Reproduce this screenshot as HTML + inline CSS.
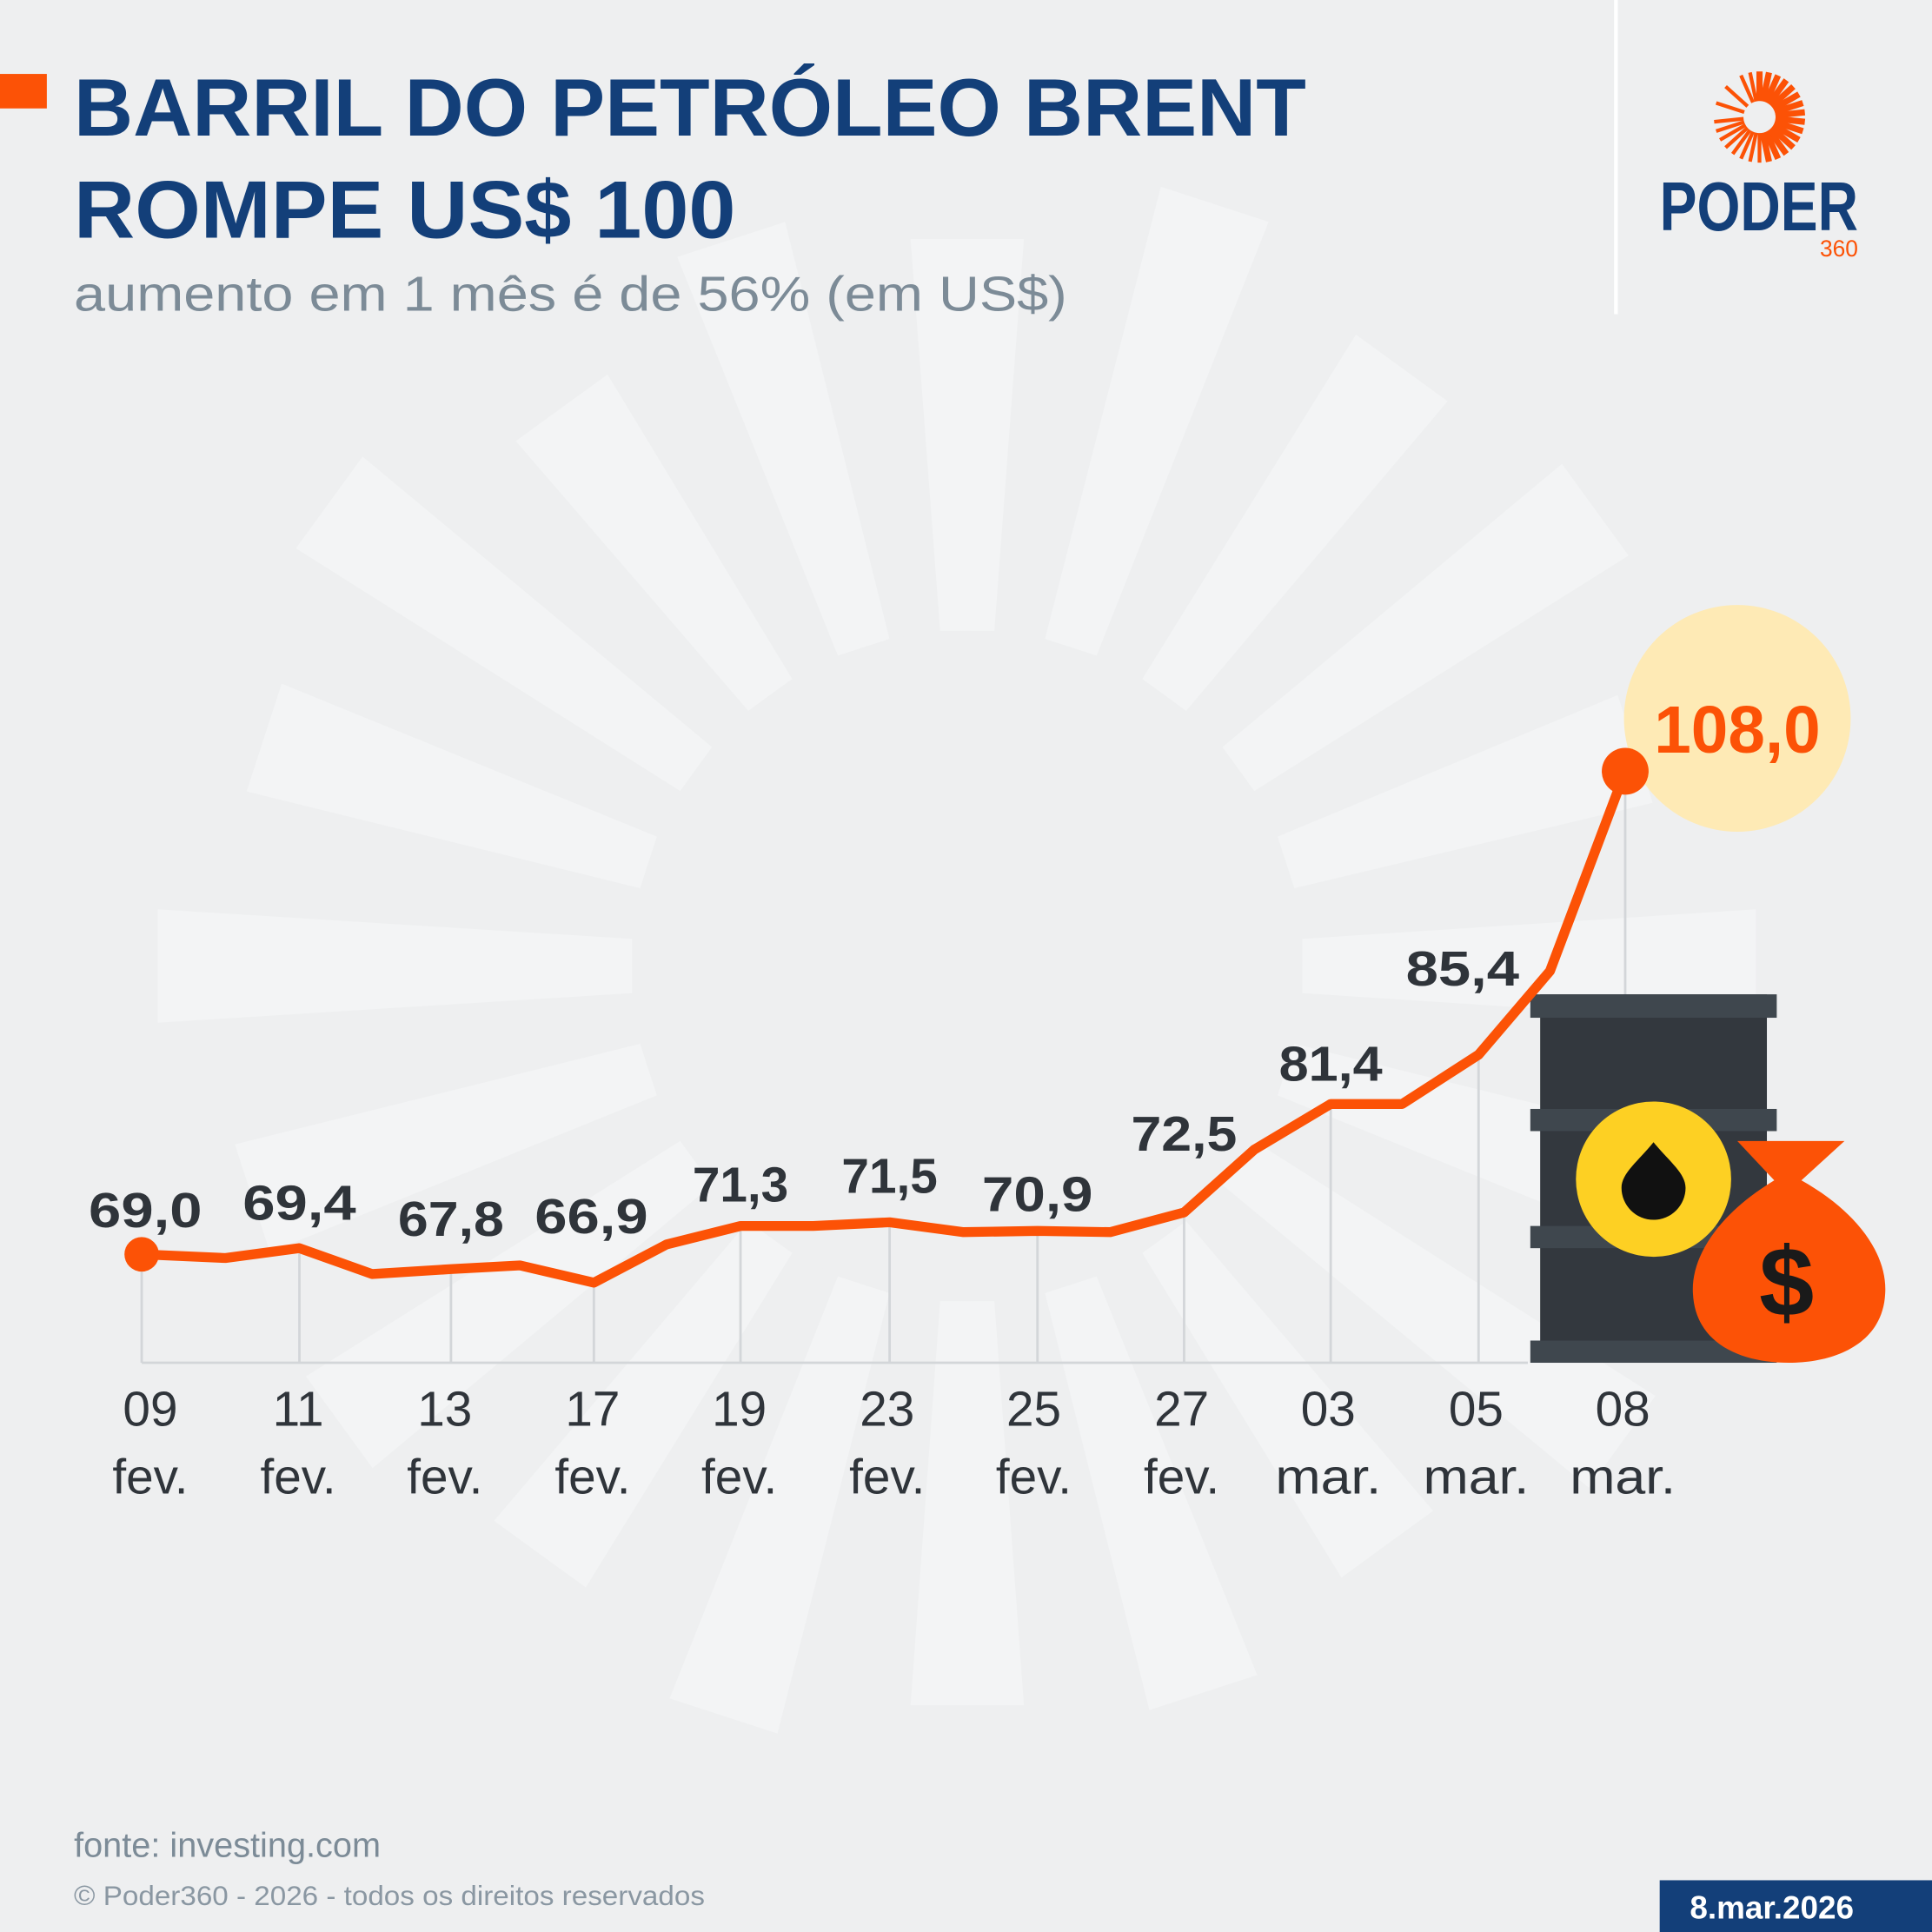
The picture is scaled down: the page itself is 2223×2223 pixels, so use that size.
<!DOCTYPE html>
<html><head><meta charset="utf-8"><style>
html,body{margin:0;padding:0;background:#eeeff0}
svg{display:block}
text{font-family:"Liberation Sans",sans-serif}
</style></head><body>
<svg id="s" width="2223" height="2223" viewBox="0 0 1568 1568" xmlns="http://www.w3.org/2000/svg">
<rect width="1568" height="1568" fill="#eeeff0"/>
<g id="rays" fill="#f3f4f5"></g>
<circle cx="785" cy="784" r="272" fill="#eeeff0"/>
<rect x="1310" y="0" width="3" height="255" fill="#ffffff"/>
<rect x="0" y="60" width="38" height="28" fill="#fc5206"/>
<text x="60" y="110" font-size="66" font-weight="bold" fill="#133f79" textLength="1000" lengthAdjust="spacingAndGlyphs">BARRIL DO PETRÓLEO BRENT</text>
<text x="60" y="193" font-size="66" font-weight="bold" fill="#133f79" textLength="537" lengthAdjust="spacingAndGlyphs">ROMPE US$ 100</text>
<text x="60" y="252" font-size="40" fill="#7c8b97" textLength="806" lengthAdjust="spacingAndGlyphs">aumento em 1 mês é de 56% (em US$)</text>
<g id="logo" fill="#fc5206"></g>
<text x="1347" y="187" font-size="56" font-weight="bold" fill="#133f79" textLength="161" lengthAdjust="spacingAndGlyphs">PODER</text>
<text x="1477" y="208" font-size="19" fill="#fc5206" textLength="31" lengthAdjust="spacingAndGlyphs">360</text>
<g stroke="#d3d6d9" stroke-width="2">
<line x1="115" y1="1106" x2="1240" y2="1106"/>
<line x1="115" y1="1018" x2="115" y2="1106"/><line x1="243" y1="1013" x2="243" y2="1106"/>
<line x1="366" y1="1030" x2="366" y2="1106"/><line x1="482" y1="1041" x2="482" y2="1106"/>
<line x1="601" y1="995" x2="601" y2="1106"/><line x1="722" y1="992" x2="722" y2="1106"/>
<line x1="842" y1="999" x2="842" y2="1106"/><line x1="961" y1="984" x2="961" y2="1106"/>
<line x1="1080" y1="896" x2="1080" y2="1106"/><line x1="1200" y1="856" x2="1200" y2="1106"/>
<line x1="1319" y1="626" x2="1319" y2="810"/>
</g>
<circle cx="1410" cy="583" r="92" fill="#feeab5"/>
<text x="1410" y="611" font-size="54" font-weight="bold" fill="#fc5206" text-anchor="middle">108,0</text>
<rect x="1250" y="807" width="184" height="299" fill="#33383e"/>
<g fill="#3f474e"><rect x="1242" y="807" width="200" height="19"/><rect x="1242" y="900" width="200" height="18"/><rect x="1242" y="995" width="200" height="18"/><rect x="1242" y="1088" width="200" height="18"/></g>
<circle cx="1342" cy="957" r="63" fill="#fdd023"/>
<path d="M1342 927 C1330 942 1316 952 1316 964 A26 26 0 0 0 1368 964 C1368 952 1354 942 1342 927Z" fill="#111"/>
<path d="M1410 926 L1497 926 L1462 958 C1510 985 1532 1020 1530 1050 C1528 1090 1490 1106 1452 1106 C1412 1106 1376 1090 1374 1050 C1372 1020 1395 985 1440 958 Z" fill="#fc5206"/>
<text x="1450" y="1068" font-size="80" font-weight="bold" fill="#1a1a1a" text-anchor="middle">$</text>
<polyline fill="none" stroke="#fc5206" stroke-width="8" stroke-linejoin="round" points="115,1018 183,1021 243,1013 302,1034 366,1030 422,1027 482,1041 541,1010 601,995 660,995 722,992 782,1000 842,999 901,1000 961,984 1018,933 1080,896 1138,896 1200,856 1258,788 1319,626"/>
<circle cx="115" cy="1018" r="14" fill="#fc5206"/>
<circle cx="1319" cy="626" r="19" fill="#fc5206"/>
<g font-size="40" font-weight="bold" fill="#2f343a" text-anchor="middle">
<text x="118" y="996" textLength="92" lengthAdjust="spacingAndGlyphs">69,0</text><text x="243" y="990" textLength="92" lengthAdjust="spacingAndGlyphs">69,4</text><text x="366" y="1003" textLength="86" lengthAdjust="spacingAndGlyphs">67,8</text><text x="480" y="1001" textLength="92" lengthAdjust="spacingAndGlyphs">66,9</text>
<text x="601" y="975">71,3</text><text x="722" y="968">71,5</text><text x="842" y="983" textLength="90" lengthAdjust="spacingAndGlyphs">70,9</text><text x="961" y="934" textLength="86" lengthAdjust="spacingAndGlyphs">72,5</text>
<text x="1080" y="877" textLength="84" lengthAdjust="spacingAndGlyphs">81,4</text><text x="1187" y="800" textLength="92" lengthAdjust="spacingAndGlyphs">85,4</text>
</g>
<g font-size="40" fill="#2f343a" text-anchor="middle">
<text x="122" y="1157">09</text><text x="122" y="1212">fev.</text>
<text x="242" y="1157">11</text><text x="242" y="1212">fev.</text>
<text x="361" y="1157">13</text><text x="361" y="1212">fev.</text>
<text x="481" y="1157">17</text><text x="481" y="1212">fev.</text>
<text x="600" y="1157">19</text><text x="600" y="1212">fev.</text>
<text x="720" y="1157">23</text><text x="720" y="1212">fev.</text>
<text x="839" y="1157">25</text><text x="839" y="1212">fev.</text>
<text x="959" y="1157">27</text><text x="959" y="1212">fev.</text>
<text x="1078" y="1157">03</text><text x="1078" y="1212" textLength="86" lengthAdjust="spacingAndGlyphs">mar.</text>
<text x="1198" y="1157">05</text><text x="1198" y="1212" textLength="86" lengthAdjust="spacingAndGlyphs">mar.</text>
<text x="1317" y="1157">08</text><text x="1317" y="1212" textLength="86" lengthAdjust="spacingAndGlyphs">mar.</text>
</g>
<text x="60" y="1507" font-size="28" fill="#7c8b97">fonte: investing.com</text>
<text x="60" y="1546" font-size="22" fill="#8a97a2" textLength="512" lengthAdjust="spacingAndGlyphs">© Poder360 - 2026 - todos os direitos reservados</text>
<rect x="1347" y="1526" width="221" height="42" fill="#133f79"/>
<text x="1438" y="1557" font-size="26" font-weight="bold" fill="#fff" text-anchor="middle">8.mar.2026</text>
</svg>
<script>
var ns="http://www.w3.org/2000/svg";
var g=document.getElementById("rays");
var cx=785,cy=784;
var lens=[657,600,640,560,620,590,650,600,630,570,640,610,657,580,620,600,640,590,630,610];
for(var i=0;i<20;i++){
 var a=i*18;
 var L=lens[i];
 var p=document.createElementNS(ns,"polygon");
 p.setAttribute("points","272,-22 "+L+",-46 "+L+",46 272,22");
 p.setAttribute("transform","translate("+cx+","+cy+") rotate("+(180+a)+")");
 g.appendChild(p);
}
var lg=document.getElementById("logo");
for(var i=0;i<30;i++){
 var a=-90+i*12;
 if(a>185&&a<245&&i%2) continue;
 var r=document.createElementNS(ns,"rect");
 var w=(a<90&&a>=-90)?5:3;
 r.setAttribute("x",13);r.setAttribute("y",-w/2);
 r.setAttribute("width",24);r.setAttribute("height",w);
 r.setAttribute("transform","translate(1428,95) rotate("+a+")");
 lg.appendChild(r);
}
</script>
</body></html>
